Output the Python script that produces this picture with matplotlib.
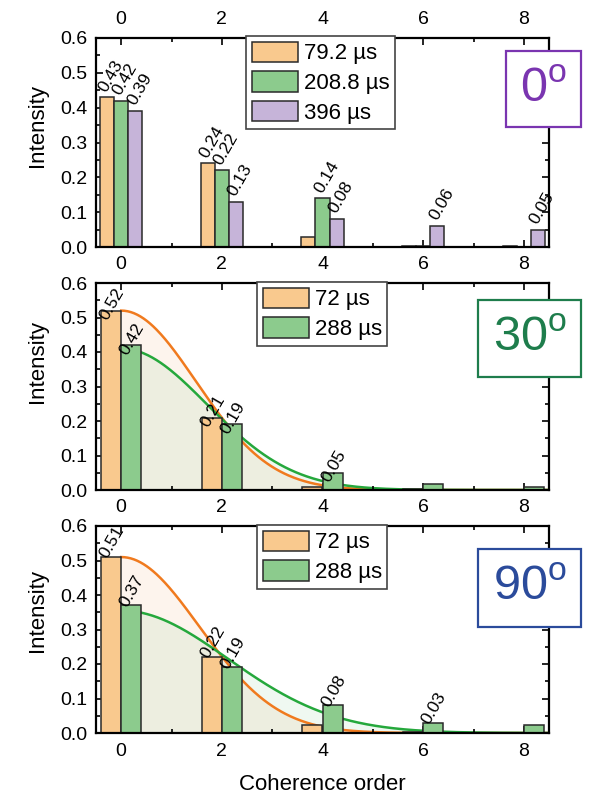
import numpy as np
import matplotlib
matplotlib.use("Agg")
from matplotlib import pyplot as plt
from matplotlib.patches import Rectangle
from matplotlib.ticker import MultipleLocator

plt.rcParams['font.family'] = ['Liberation Sans', 'DejaVu Sans']
plt.rcParams['mathtext.fontset'] = 'custom'
plt.rcParams['mathtext.rm'] = 'Liberation Sans'

# coherence orders
orders = np.array([0, 2, 4, 6, 8])

# 0 degree: three evolution times
p0_labels = ['79.2 µs', '208.8 µs', '396 µs']
p0_short = [0.43, 0.24, 0.028, 0.003, 0.002]
p0_mid = [0.42, 0.22, 0.14, 0.002, 0.001]
p0_long = [0.39, 0.13, 0.08, 0.06, 0.05]

# 30 degree
p30_labels = ['72 µs', '288 µs']
p30_short = [0.52, 0.21, 0.009, 0.002, 0.001]
p30_long = [0.42, 0.19, 0.05, 0.018, 0.008]
# gaussian fits: amplitude, 2*sigma^2
p30_fit_short = (0.52, 4.4)
p30_fit_long = (0.41, 5.8)

# 90 degree
p90_labels = ['72 µs', '288 µs']
p90_short = [0.51, 0.22, 0.023, 0.004, 0.001]
p90_long = [0.37, 0.19, 0.08, 0.03, 0.022]
p90_fit_short = (0.51, 4.8)
p90_fit_long = (0.355, 9.0)

c_orange = '#F9C98E'
c_green = '#8CCB8D'
c_purple = '#C6B4D9'
line_orange = '#F07A1E'
line_green = '#25A83C'
edge = '#2a2a2a'

W, H = 598, 800
fig = plt.figure(figsize=(W / 100, H / 100), dpi=100)
fig.patch.set_facecolor('white')


def make_axes(top, bottom):
    ax = fig.add_axes([96 / W, 1 - bottom / H, (549 - 96) / W, (bottom - top) / H])
    ax.set_xlim(-0.5, 8.5)
    ax.set_ylim(0, 0.6)
    ax.xaxis.set_major_locator(MultipleLocator(2))
    ax.xaxis.set_minor_locator(MultipleLocator(1))
    ax.yaxis.set_major_locator(MultipleLocator(0.1))
    ax.yaxis.set_minor_locator(MultipleLocator(0.05))
    ax.yaxis.set_major_formatter(matplotlib.ticker.FormatStrFormatter('%.1f'))
    ax.tick_params(which='both', direction='in', top=True, right=True,
                   labeltop=True, labelbottom=False, width=1.2)
    ax.tick_params(which='major', length=5, labelsize=14)
    ax.tick_params(axis='x', which='major', pad=7)
    ax.tick_params(axis='y', which='major', pad=6)
    ax.tick_params(which='minor', length=3)
    for s in ax.spines.values():
        s.set_linewidth(1.6)
    return ax


def label_bars(ax, xs, vals, width, dy):
    for x, v in zip(xs, vals):
        if v >= 0.03:
            ax.annotate('%.2f' % v, xy=(x - width / 2, v), xytext=(2, dy),
                        textcoords='offset points', rotation=60,
                        rotation_mode='anchor', ha='left', va='center',
                        fontsize=12.5, zorder=4)


def angle_box(text, color, x0, y0, x1, y1):
    fig.add_artist(Rectangle((x0 / W, 1 - y1 / H), (x1 - x0) / W, (y1 - y0) / H,
                             transform=fig.transFigure, fc='white', ec=color,
                             lw=1.6, zorder=10))
    fig.text((x0 + x1) / 2 / W, 1 - (y0 + y1) / 2 / H, text, color=color,
             fontsize=35, ha='center', va='center', zorder=11)


def gauss(fit, x):
    return fit[0] * np.exp(-x ** 2 / fit[1])


# top panel: three series
ax1 = make_axes(38, 247)
bw = 0.28
for k, (vals, col, lab) in enumerate(zip([p0_short, p0_mid, p0_long],
                                         [c_orange, c_green, c_purple], p0_labels)):
    xs = orders + (k - 1) * bw
    ax1.bar(xs, vals, width=bw, color=col, edgecolor=edge, linewidth=1.1,
            label=lab, zorder=2)
    label_bars(ax1, xs, vals, bw, 5)
ax1.set_ylabel('Intensity', fontsize=16)
ax1.yaxis.set_label_coords(-0.105, 0.58)
ax1.legend(loc='upper left', bbox_to_anchor=(246 / W, 1 - 36 / H),
           bbox_transform=fig.transFigure, fontsize=16, handlelength=2.1,
           handleheight=1.05, handletextpad=0.25, borderpad=0.25,
           labelspacing=0.3, borderaxespad=0, fancybox=False,
           edgecolor='#444444', framealpha=1).get_frame().set_linewidth(1.2)

xc = np.linspace(0, 8.5, 400)


def fit_panel(top, bottom, short, long_, fit_s, fit_l, labels, dy, ylab_y):
    ax = make_axes(top, bottom)
    ys = gauss(fit_s, xc)
    yl = gauss(fit_l, xc)
    ax.fill_between(xc, 0, ys, color=line_orange, alpha=0.08, lw=0, zorder=1)
    ax.fill_between(xc, 0, yl, color=line_green, alpha=0.07, lw=0, zorder=1)
    ax.plot(xc, ys, color=line_orange, lw=1.8, zorder=1.5)
    ax.plot(xc, yl, color=line_green, lw=1.8, zorder=1.5)
    w = 0.4
    ax.bar(orders - w / 2, short, width=w, color=c_orange, edgecolor=edge,
           linewidth=1.1, label=labels[0], zorder=2)
    ax.bar(orders + w / 2, long_, width=w, color=c_green, edgecolor=edge,
           linewidth=1.1, label=labels[1], zorder=2)
    label_bars(ax, orders - w / 2, short, w, dy)
    label_bars(ax, orders + w / 2, long_, w, dy)
    ax.set_ylabel('Intensity', fontsize=16)
    ax.yaxis.set_label_coords(-0.105, ylab_y)
    ax.legend(loc='upper left', bbox_to_anchor=(257 / W, 1 - (top - 1) / H),
              bbox_transform=fig.transFigure, fontsize=16, handlelength=2.1,
              handleheight=1.05, handletextpad=0.25, borderpad=0.25,
              labelspacing=0.3, borderaxespad=0, fancybox=False,
              edgecolor='#444444', framealpha=1).get_frame().set_linewidth(1.2)
    return ax


ax2 = fit_panel(283, 490, p30_short, p30_long, p30_fit_short, p30_fit_long,
                p30_labels, -6, 0.62)
ax3 = fit_panel(526, 733, p90_short, p90_long, p90_fit_short, p90_fit_long,
                p90_labels, 0, 0.59)
ax3.tick_params(labelbottom=True)

fig.text(322 / W, 1 - 785 / H, 'Coherence order', fontsize=16,
         ha='center', va='center')

angle_box(r'0$^{\mathregular{o}}$', '#7A35B0', 506, 51, 581, 127)
angle_box(r'30$^{\mathregular{o}}$', '#1E7D4C', 478, 300, 581, 377)
angle_box(r'90$^{\mathregular{o}}$', '#2B4B9B', 478, 549, 581, 627)

fig.savefig('out.png', dpi=100)
